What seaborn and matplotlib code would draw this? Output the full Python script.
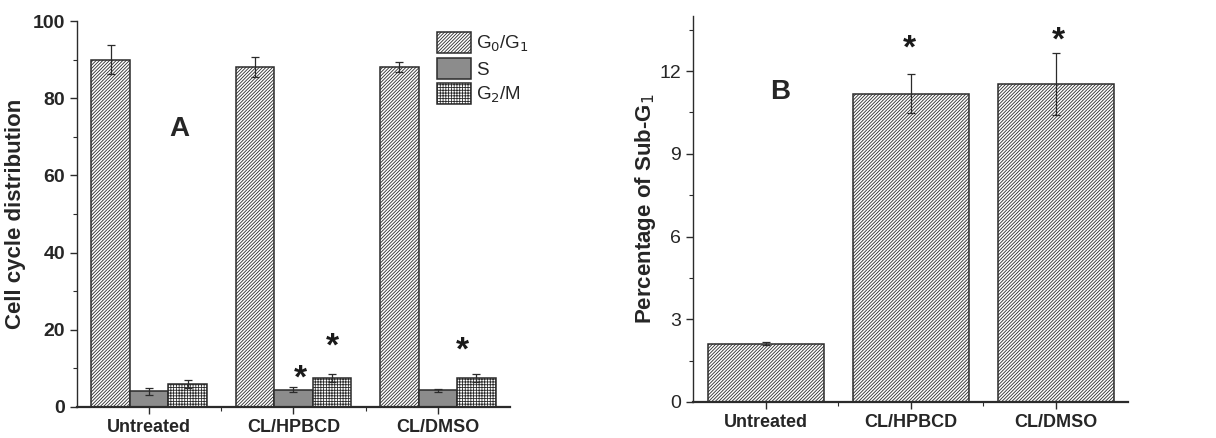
import matplotlib
matplotlib.use("Agg")
import matplotlib.pyplot as plt
import numpy as np
import pandas as pd
import seaborn as sns
from matplotlib.patches import Patch
from matplotlib.ticker import MultipleLocator, FixedLocator

# panel A data
treatments = ["Untreated", "CL/HPBCD", "CL/DMSO"]
phases = ["G$_0$/G$_1$", "S", "G$_2$/M"]
g0g1 = [90.0, 88.1, 88.2]
g0g1_err = [3.7, 2.7, 1.3]
s_phase = [4.05, 4.5, 4.3]
s_phase_err = [0.85, 0.6, 0.45]
g2m = [5.95, 7.5, 7.6]
g2m_err = [0.95, 1.0, 1.0]

# panel B data
sub_g1 = [2.11, 11.18, 11.52]
sub_g1_err = [0.05, 0.7, 1.12]

EDGE = "#2b2b2b"
FONT = ["Liberation Sans Narrow", "Liberation Sans", "DejaVu Sans"]

sns.set_style("ticks")
plt.rcParams["font.family"] = FONT
plt.rcParams["hatch.color"] = "#333333"
plt.rcParams["hatch.linewidth"] = 0.6

fig = plt.figure(figsize=(12.16, 4.38), dpi=100)
ax1 = fig.add_axes([0.0633, 0.0708, 0.3561, 0.8812])
ax2 = fig.add_axes([0.570, 0.0822, 0.358, 0.8813])

DIAG = "/" * 10
GRID = "+" * 6

# ---- panel A
df_a = pd.DataFrame({
    "treatment": treatments * 3,
    "phase": [phases[0]] * 3 + [phases[1]] * 3 + [phases[2]] * 3,
    "value": g0g1 + s_phase + g2m,
})
errs_a = [g0g1_err, s_phase_err, g2m_err]
sns.barplot(data=df_a, x="treatment", y="value", hue="phase", order=treatments,
            hue_order=phases, errorbar=None, width=0.8, ax=ax1, legend=False)

styles = [dict(facecolor="white", hatch=DIAG),
          dict(facecolor="#8c8c8c", hatch=None),
          dict(facecolor="white", hatch=GRID)]
for cont, st, err in zip(ax1.containers, styles, errs_a):
    for bar, e in zip(cont.patches, err):
        bar.set_facecolor(st["facecolor"])
        bar.set_hatch(st["hatch"])
        bar.set_edgecolor(EDGE)
        bar.set_linewidth(1.1)
        ax1.errorbar(bar.get_x() + bar.get_width() / 2, bar.get_height(), yerr=e,
                     color=EDGE, lw=0.9, capsize=3, capthick=0.9, zorder=5)

handles = [Patch(facecolor=st["facecolor"], hatch=st["hatch"], edgecolor=EDGE, lw=1.1)
           for st in styles]
ax1.legend(handles, phases, loc="upper left", bbox_to_anchor=(0.831, 0.972),
           frameon=False, fontsize=13.5, handlelength=1.85, handleheight=1.35,
           handletextpad=0.25, labelspacing=0.22, borderaxespad=0, borderpad=0)

ax1.set_xlim(-0.5, 2.5)
ax1.set_ylim(0, 100)
ax1.yaxis.set_major_locator(MultipleLocator(20))
ax1.yaxis.set_minor_locator(MultipleLocator(10))
ax1.set_ylabel("Cell cycle distribution", fontsize=16, fontweight="bold", labelpad=5)
ax1.set_xlabel("")
ax1.text(0.21, 72, "A", fontsize=20, fontweight="bold", ha="center", va="center",
         family=["Liberation Sans", "DejaVu Sans"])
for x, y in [(1.05, 7.3), (1.27, 15.5), (2.17, 14.6)]:
    ax1.text(x, y, "*", fontsize=24, fontweight="bold", ha="center", va="center",
             color="#1a1a1a")

# ---- panel B
df_b = pd.DataFrame({"treatment": treatments, "value": sub_g1})
sns.barplot(data=df_b, x="treatment", y="value", order=treatments, errorbar=None,
            width=0.8, color="white", ax=ax2)
for bar, e in zip(ax2.patches, sub_g1_err):
    bar.set_facecolor("white")
    bar.set_hatch(DIAG)
    bar.set_edgecolor(EDGE)
    bar.set_linewidth(1.1)
    ax2.errorbar(bar.get_x() + bar.get_width() / 2, bar.get_height(), yerr=e,
                 color=EDGE, lw=0.9, capsize=3, capthick=0.9, zorder=5)

ax2.set_xlim(-0.5, 2.5)
ax2.set_ylim(0, 14)
ax2.yaxis.set_major_locator(FixedLocator([0, 3, 6, 9, 12]))
ax2.yaxis.set_minor_locator(MultipleLocator(1.5))
ax2.set_ylabel("Percentage of Sub-G$_1$", fontsize=16, fontweight="bold", labelpad=1)
ax2.set_xlabel("")
ax2.text(0.1, 11.25, "B", fontsize=20, fontweight="bold", ha="center", va="center",
         family=["Liberation Sans", "DejaVu Sans"])
for x, y in [(0.99, 12.8), (2.02, 13.1)]:
    ax2.text(x, y, "*", fontsize=24, fontweight="bold", ha="center", va="center",
             color="#1a1a1a")

for ax, bold_y in [(ax1, True), (ax2, False)]:
    sns.despine(ax=ax)
    ax.spines["left"].set_color(EDGE)
    ax.spines["bottom"].set_color(EDGE)
    ax.spines["left"].set_linewidth(1.0)
    ax.spines["bottom"].set_linewidth(1.6)
    ax.xaxis.set_minor_locator(FixedLocator([0.5, 1.5]))
    ax.tick_params(axis="both", which="major", direction="out", length=5, width=1,
                   color=EDGE)
    ax.tick_params(axis="both", which="minor", direction="out", length=3, width=0.8,
                   color=EDGE)
    ax.tick_params(axis="x", labelsize=13, pad=4)
    ax.tick_params(axis="y", labelsize=14)
    for lab in ax.get_xticklabels():
        lab.set_fontweight("bold")
    for lab in ax.get_yticklabels():
        lab.set_fontweight("bold" if bold_y else "normal")

fig.savefig("out.png", dpi=100)
